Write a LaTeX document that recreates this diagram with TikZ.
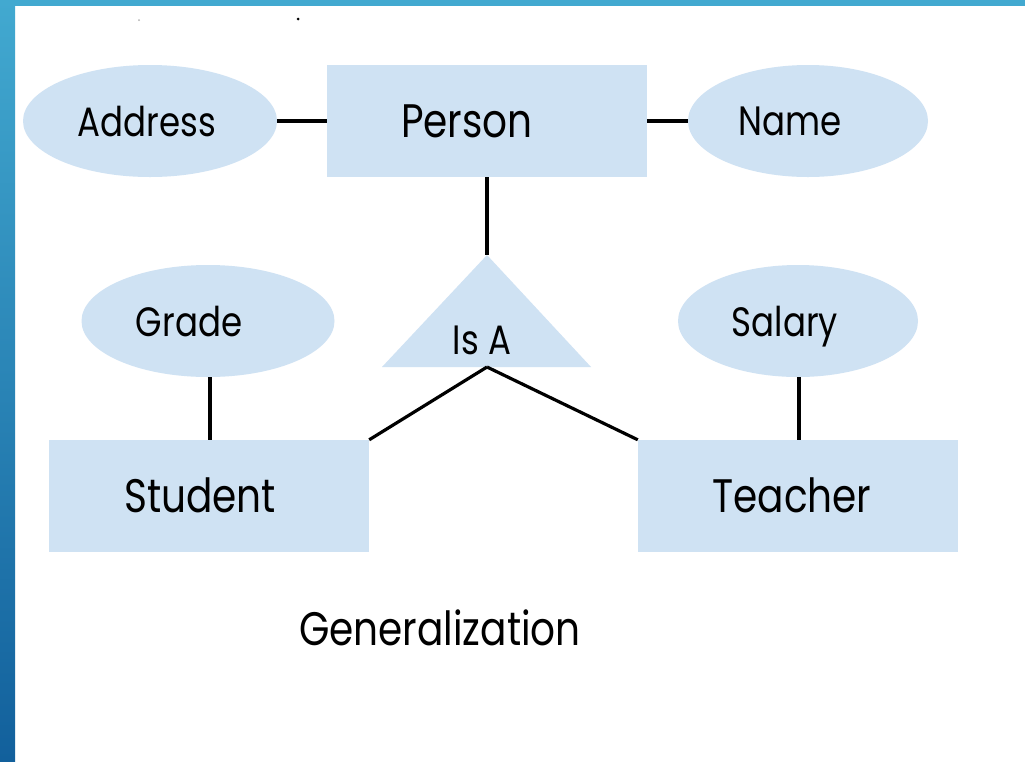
\documentclass[tikz,border=0pt]{standalone}
\usepackage{fontspec}
\usepackage{graphicx}
\setmainfont{Poppins}
\usetikzlibrary{shapes.geometric}
\definecolor{entfill}{HTML}{CFE2F3}
\definecolor{bartop}{HTML}{42A9D0}
\definecolor{barbottom}{HTML}{12609C}
% narrow, tall lettering
\newcommand{\narrowtext}[1]{\scalebox{0.83}[1]{#1}}
\begin{document}
\begin{tikzpicture}[x=1pt,y=-1pt,
  every node/.style={inner sep=0pt},
  entity/.style={draw=none,fill=entfill,minimum width=320pt,minimum height=112pt},
  attr/.style={ellipse,draw=none,fill=entfill},
  bigtext/.style={font=\fontsize{47}{52}\selectfont,text depth=0pt},
  smalltext/.style={font=\fontsize{41}{46}\selectfont,text depth=0pt},
  link/.style={line width=3.2pt,black}]
% frame
\useasboundingbox (0,0) rectangle (1025,761);
\fill[white] (0,0) rectangle (1025,761);
\shade[top color=bartop,bottom color=barbottom] (0,0) rectangle (15,761);
\fill[bartop] (0,0) rectangle (1025,6);
\fill[gray!60] (139,20) circle (1pt);
\fill[black] (298,19) circle (1.5pt);
% entities
\node[entity] (person) at (487,121) {};
\node[entity] (student) at (209,496) {};
\node[entity] (teacher) at (798,496) {};
\node[bigtext] (persontext) at (467,121) {\narrowtext{Person}};
\node[bigtext] (studenttext) at (200,495) {\narrowtext{Student}};
\node[bigtext] (teachertext) at (792,495) {\narrowtext{Teacher}};
% attributes
\node[attr,minimum width=254pt,minimum height=112pt] (address) at (150,121) {};
\node[attr,minimum width=240pt,minimum height=112pt] (name) at (808,121) {};
\node[attr,minimum width=253pt,minimum height=112pt] (grade) at (208,321) {};
\node[attr,minimum width=240pt,minimum height=112pt] (salary) at (798,321) {};
\node[smalltext] (addresstext) at (147,121) {\narrowtext{Address}};
\node[smalltext] (nametext) at (790,121) {\narrowtext{Name}};
\node[smalltext] (gradetext) at (189,321) {\narrowtext{Grade}};
\node[smalltext] (salarytext) at (785,321) {\narrowtext{Salary}};
% is-a triangle
\fill[entfill] (487,255) coordinate (isatop) -- (591,367) -- (382,367) -- cycle;
\coordinate (isabase) at (487,367);
\node[smalltext] (isa) at (482,340) {\narrowtext{Is A}};
% connectors
\draw[link] (address.east) -- (person.west);
\draw[link] (person.east) -- (name.west);
\draw[link] (person.south) -- (isatop);
\draw[link] (grade.south -| 210,0) -- (student.north -| 210,0);
\draw[link] (salary.south -| 799,0) -- (teacher.north -| 799,0);
\draw[link] (isabase) -- (student.north east);
\draw[link] (isabase) -- (teacher.north west);
% caption
\node[bigtext] (caption) at (440,628) {\narrowtext{Generalization}};
\end{tikzpicture}
\end{document}
